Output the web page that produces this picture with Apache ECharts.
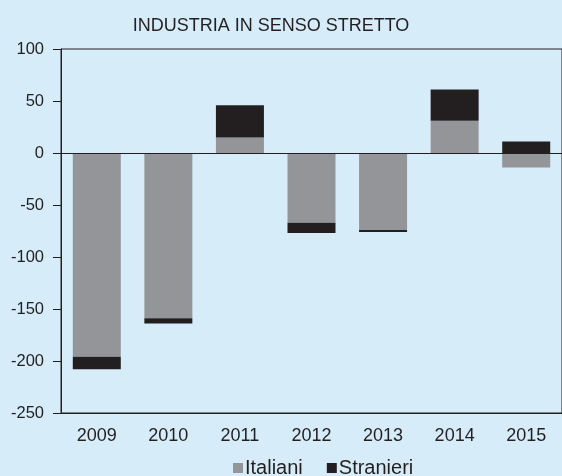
<!DOCTYPE html>
<html>
<head>
<meta charset="utf-8">
<script src="https://cdn.jsdelivr.net/npm/echarts@6/dist/echarts.min.js"></script>
<style>
  html, body { margin: 0; padding: 0; background: #d6edf9; }
  #main { width: 562px; height: 476px; }
</style>
</head>
<body>
<div id="main"></div>
<script>
// dati
var anni = ['2009', '2010', '2011', '2012', '2013', '2014', '2015'];
var italiani = [-196, -159, 15, -67, -74, 31, -14];
var stranieri = [-12, -5, 31, -10, -2, 30, 11];
var yTicks = [-250, 100, 50];  // min, max, passo

var font = "'Liberation Sans', Arial, sans-serif";
var myChart = echarts.init(document.getElementById('main'));

var option = {
  backgroundColor: '#d6edf9',
  animation: false,
  title: {
    text: 'INDUSTRIA IN SENSO STRETTO',
    left: 266, top: 12, textAlign: 'center',
    textStyle: { fontFamily: font, fontSize: 18, fontWeight: 'normal', color: '#231f20' }
  },
  legend: {
    top: 453, left: 228,
    itemWidth: 10, itemHeight: 10, itemGap: 24,
    icon: 'rect',
    textStyle: { fontFamily: font, fontSize: 20, color: '#231f20', padding: [0, 0, 0, -3] },
    data: ['Italiani', 'Stranieri']
  },
  grid: {
    left: 61, right: -8, top: 49, bottom: 63,
    show: true, borderColor: '#231f20', borderWidth: 1, backgroundColor: 'transparent'
  },
  xAxis: {
    type: 'category',
    data: anni,
    axisLine: { onZero: false, lineStyle: { color: '#231f20' } },
    axisTick: { show: false },
    axisLabel: { fontFamily: font, fontSize: 18, color: '#231f20', margin: 14 }
  },
  yAxis: {
    type: 'value',
    min: yTicks[0], max: yTicks[1], interval: yTicks[2],
    axisLine: { show: true, lineStyle: { color: '#231f20' } },
    axisTick: { show: true, length: 8, lineStyle: { color: '#231f20' } },
    splitLine: { show: false },
    axisLabel: { fontFamily: font, fontSize: 16.5, color: '#231f20', margin: 17 }
  },
  series: [
    {
      name: 'Italiani', type: 'bar', stack: 'tot', barWidth: 48,
      itemStyle: { color: '#939598' },
      data: italiani,
      markLine: {
        silent: true, symbol: 'none',
        label: { show: false },
        lineStyle: { color: '#231f20', type: 'solid', width: 1 },
        data: [{ yAxis: 0 }]
      }
    },
    {
      name: 'Stranieri', type: 'bar', stack: 'tot', barWidth: 48,
      itemStyle: { color: '#231f20' },
      data: stranieri
    }
  ]
};
myChart.setOption(option);
</script>
</body>
</html>
